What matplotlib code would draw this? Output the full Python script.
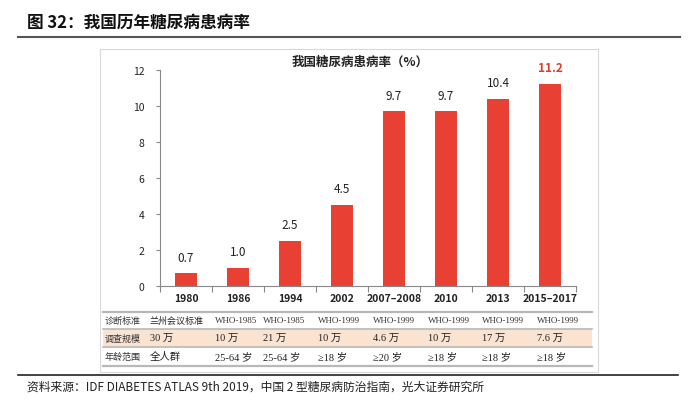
import matplotlib
matplotlib.use("Agg")
import matplotlib.pyplot as plt
from matplotlib.patches import Rectangle
from matplotlib.lines import Line2D

plt.rcParams['font.family'] = ['Noto Sans CJK SC', 'DejaVu Sans']

categories = ["1980", "1986", "1994", "2002", "2007–2008", "2010", "2013", "2015–2017"]
prevalence = [0.7, 1.0, 2.5, 4.5, 9.7, 9.7, 10.4, 11.2]
value_labels = ["0.7", "1.0", "2.5", "4.5", "9.7", "9.7", "10.4", "11.2"]
yticks = [0, 2, 4, 6, 8, 10, 12]

row_names = ["诊断标准", "调查规模", "年龄范围"]
row_standard = ["兰州会议标准", "WHO-1985", "WHO-1985", "WHO-1999", "WHO-1999", "WHO-1999", "WHO-1999", "WHO-1999"]
row_scale = ["30 万", "10 万", "21 万", "10 万", "4.6 万", "10 万", "17 万", "7.6 万"]
row_age = ["全人群", "25-64 岁", "25-64 岁", "≥18 岁", "≥20 岁", "≥18 岁", "≥18 岁", "≥18 岁"]

title = "图 32：我国历年糖尿病患病率"
inner_title = "我国糖尿病患病率（%）"
source = "资料来源：IDF DIABETES ATLAS 9th 2019，中国 2 型糖尿病防治指南，光大证券研究所"

W, H = 700, 402
fig = plt.figure(figsize=(W / 100, H / 100), dpi=100)

def fx(px):
    return px / W

def fy(py):
    return 1 - py / H

# Header
fig.text(fx(27), fy(23), title, fontsize=12, fontweight='bold', va='center', ha='left', color='#111111')
fig.add_artist(Line2D([fx(18), fx(680)], [fy(38), fy(38)], color='#555555', lw=1.5))

# Inner picture box
fig.add_artist(Rectangle((fx(100), fy(373)), fx(598) - fx(100), fy(50) - fy(373),
                         fill=False, edgecolor='#d9d9d9', lw=0.8))

fig.text(fx(360), fy(62), inner_title, fontsize=9, fontweight='bold', ha='center', va='center', color='#222222')

# Bar chart
ax = fig.add_axes([fx(160), fy(287), fx(576) - fx(160), fy(71) - fy(287)])
x = list(range(len(categories)))
bar_colors = '#E84133'
ax.bar(x, prevalence, width=0.42, color=bar_colors, zorder=2)
for i, (v, lab) in enumerate(zip(prevalence, value_labels)):
    last = i == len(prevalence) - 1
    ax.text(i, v + 0.55, lab, ha='center', va='bottom', fontsize=8.5,
            color='#E03A2C' if last else '#222222', fontweight='bold' if last else 'normal')

ax.set_xlim(-0.5, len(categories) - 0.5)
ax.set_ylim(0, 12)
ax.set_yticks(yticks)
ax.set_yticklabels([str(t) for t in yticks], fontsize=7.5, color='#222222')
ax.set_xticks(x)
ax.set_xticklabels(categories, fontsize=7.5, fontweight='bold', color='#222222')
ax.set_xticks([i - 0.5 for i in range(len(categories) + 1)], minor=True)
ax.tick_params(axis='x', which='major', length=0, pad=5)
ax.tick_params(axis='x', which='minor', length=4, color='#888888', width=0.8)
ax.tick_params(axis='y', length=3, color='#888888', width=0.8, pad=8)
for s in ['top', 'right']:
    ax.spines[s].set_visible(False)
for s in ['left', 'bottom']:
    ax.spines[s].set_color('#888888')
    ax.spines[s].set_linewidth(0.8)

# Table
fig.add_artist(Rectangle((fx(103), fy(348)), fx(592) - fx(103), fy(330) - fy(348),
                         facecolor='#FBE3D2', edgecolor='none'))
for py, lw in [(313, 1.6), (330, 1.2), (348, 1.2), (367, 1.6)]:
    fig.add_artist(Line2D([fx(103), fx(592)], [fy(py), fy(py)], color='#b8b8b8', lw=lw))

col_x = [150, 215, 263, 318, 373, 428, 482, 537]
row_y = [321, 339, 357]
rows = [row_standard, row_scale, row_age]
for r, (name, vals, py) in enumerate(zip(row_names, rows, row_y)):
    fig.text(fx(105), fy(py), name, fontsize=6.5, ha='left', va='center', color='#333333')
    for j, (v, px) in enumerate(zip(vals, col_x)):
        if v.startswith("WHO"):
            fig.text(fx(px), fy(py), v, fontsize=6.5, ha='left', va='center', color='#333333',
                     family=['Liberation Serif', 'DejaVu Serif'])
        else:
            fig.text(fx(px), fy(py), v, fontsize=7.5 if r > 0 else 6.5, ha='left', va='center', color='#222222',
                     family=['Liberation Serif', 'Noto Sans CJK SC', 'DejaVu Sans'])

# Footer
fig.add_artist(Line2D([fx(18), fx(678)], [fy(376), fy(376)], color='#222222', lw=1.2))
fig.text(fx(27), fy(387), source, fontsize=8.5, ha='left', va='center', color='#222222')

fig.savefig("out.png", dpi=100)
